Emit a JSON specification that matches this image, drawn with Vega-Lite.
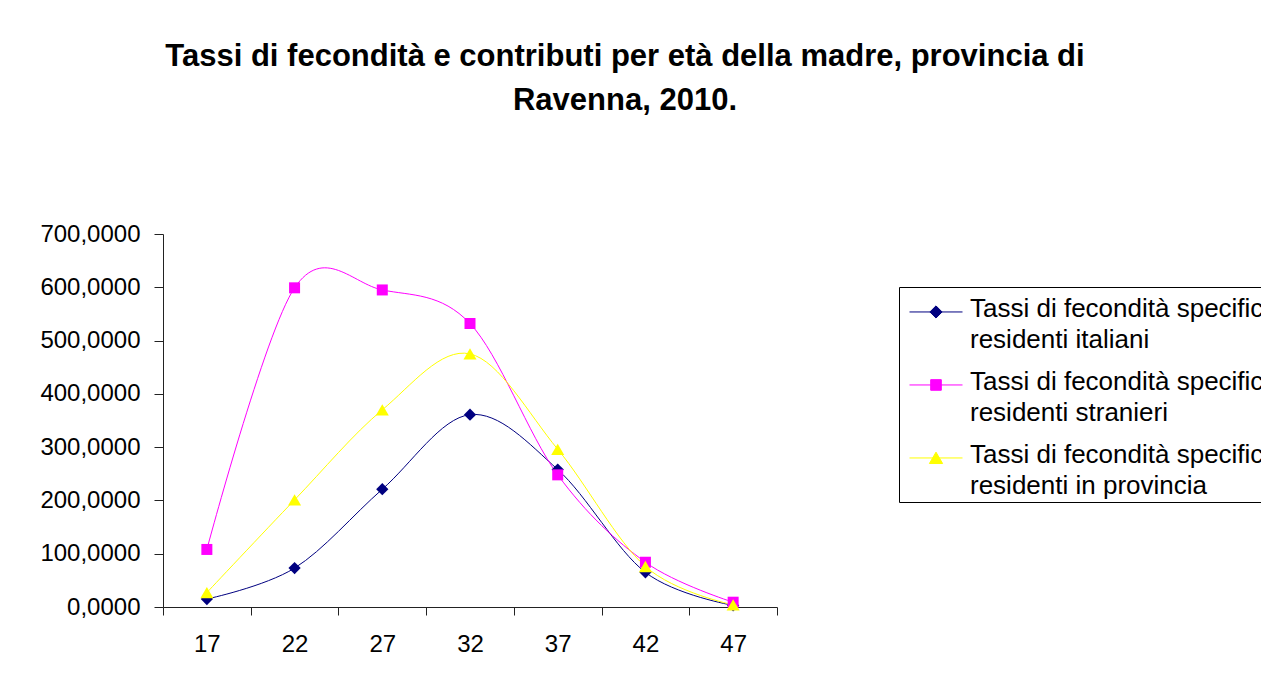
{
  "$schema": "https://vega.github.io/schema/vega-lite/v6.json",
  "autosize": "none",
  "width": 614,
  "height": 373,
  "padding": {"left": 163, "top": 234, "right": 484, "bottom": 77},
  "background": "white",
  "config": {
    "view": {"stroke": null},
    "font": "Liberation Sans",
    "legend": {"symbolFillColor": "#000000"},
    "style": {"guide-label": {"lineHeight": 31}}
  },
  "title": {
    "text": ["Tassi di fecondità e contributi per età della madre, provincia di", "Ravenna, 2010."],
    "font": "Liberation Sans",
    "fontSize": 31,
    "fontWeight": "bold",
    "color": "black",
    "anchor": "middle",
    "frame": "group",
    "dx": 155,
    "lineHeight": 44,
    "offset": 105
  },
  "data": {
    "values": [
      {"age": 17, "series": "Tassi di fecondità specifici dei residenti italiani", "value": 15},
      {"age": 22, "series": "Tassi di fecondità specifici dei residenti italiani", "value": 73},
      {"age": 27, "series": "Tassi di fecondità specifici dei residenti italiani", "value": 221},
      {"age": 32, "series": "Tassi di fecondità specifici dei residenti italiani", "value": 361},
      {"age": 37, "series": "Tassi di fecondità specifici dei residenti italiani", "value": 258},
      {"age": 42, "series": "Tassi di fecondità specifici dei residenti italiani", "value": 65},
      {"age": 47, "series": "Tassi di fecondità specifici dei residenti italiani", "value": 3},
      {"age": 17, "series": "Tassi di fecondità specifici dei residenti stranieri", "value": 108},
      {"age": 22, "series": "Tassi di fecondità specifici dei residenti stranieri", "value": 599},
      {"age": 27, "series": "Tassi di fecondità specifici dei residenti stranieri", "value": 595},
      {"age": 32, "series": "Tassi di fecondità specifici dei residenti stranieri", "value": 532},
      {"age": 37, "series": "Tassi di fecondità specifici dei residenti stranieri", "value": 248},
      {"age": 42, "series": "Tassi di fecondità specifici dei residenti stranieri", "value": 84},
      {"age": 47, "series": "Tassi di fecondità specifici dei residenti stranieri", "value": 9},
      {"age": 17, "series": "Tassi di fecondità specifici dei residenti in provincia", "value": 27},
      {"age": 22, "series": "Tassi di fecondità specifici dei residenti in provincia", "value": 201},
      {"age": 27, "series": "Tassi di fecondità specifici dei residenti in provincia", "value": 370},
      {"age": 32, "series": "Tassi di fecondità specifici dei residenti in provincia", "value": 475},
      {"age": 37, "series": "Tassi di fecondità specifici dei residenti in provincia", "value": 296},
      {"age": 42, "series": "Tassi di fecondità specifici dei residenti in provincia", "value": 76},
      {"age": 47, "series": "Tassi di fecondità specifici dei residenti in provincia", "value": 4}
    ]
  },
  "encoding": {
    "x": {
      "field": "age",
      "type": "quantitative",
      "scale": {"domain": [14.5, 49.5], "nice": false, "zero": false},
      "axis": {
        "title": null,
        "grid": false,
        "values": [14.5, 19.5, 24.5, 29.5, 34.5, 39.5, 44.5, 49.5],
        "labelExpr": "datum.value < 49 ? format(datum.value + 2.5, 'd') : ''",
        "labelOffset": 43.86,
        "labelFlush": false,
        "labelOverlap": false,
        "labelAngle": 0,
        "tickSize": 8,
        "labelPadding": 17,
        "labelFont": "Liberation Sans",
        "labelFontSize": 24,
        "labelColor": "black",
        "domainColor": "#222222",
        "tickColor": "#222222"
      }
    },
    "y": {
      "field": "value",
      "type": "quantitative",
      "scale": {"domain": [0, 700], "nice": false},
      "axis": {
        "title": null,
        "grid": false,
        "values": [0, 100, 200, 300, 400, 500, 600, 700],
        "labelExpr": "replace(format(datum.value, '.4f'), '.', ',')",
        "tickSize": 9,
        "labelPadding": 14,
        "labelFont": "Liberation Sans",
        "labelFontSize": 24,
        "labelColor": "black",
        "labelFlush": false,
        "labelOverlap": false,
        "domainColor": "#222222",
        "tickColor": "#222222"
      }
    }
  },
  "layer": [
    {
      "mark": {"type": "point", "filled": true, "opacity": 0, "size": 2809},
      "encoding": {
        "color": {
          "field": "series",
          "type": "nominal",
          "scale": {
            "domain": [
              "Tassi di fecondità specifici dei residenti italiani",
              "Tassi di fecondità specifici dei residenti stranieri",
              "Tassi di fecondità specifici dei residenti in provincia"
            ],
            "range": ["#000080", "#FF00FF", "#FFFF00"]
          },
          "legend": {
            "title": null,
            "orient": "none",
            "legendX": 736,
            "legendY": 53,
            "direction": "vertical",
            "strokeColor": "black",
            "fillColor": "white",
            "padding": 3,
            "symbolSize": 2809,
            "symbolOpacity": 1,
            "symbolStrokeWidth": 1,
            "symbolOffset": 7,
            "labelFont": "Liberation Sans",
            "labelFontSize": 26,
            "labelColor": "black",
            "labelLimit": 2000,
            "labelOffset": 7,
            "labelBaseline": "alphabetic",
            "rowPadding": 10,
            "labelExpr": "[slice(datum.label, 0, indexof(datum.label, ' residenti')), slice(datum.label, indexof(datum.label, ' residenti') + 1)]"
          }
        },
        "stroke": {
          "field": "series",
          "type": "nominal",
          "scale": {
            "domain": [
              "Tassi di fecondità specifici dei residenti italiani",
              "Tassi di fecondità specifici dei residenti stranieri",
              "Tassi di fecondità specifici dei residenti in provincia"
            ],
            "range": ["#000080", "#FF00FF", "#FFFF00"]
          }
        },
        "shape": {
          "field": "series",
          "type": "nominal",
          "scale": {
            "domain": [
              "Tassi di fecondità specifici dei residenti italiani",
              "Tassi di fecondità specifici dei residenti stranieri",
              "Tassi di fecondità specifici dei residenti in provincia"
            ],
            "range": [
              "M-1,-0.19H1M0,-0.42L0.23,-0.19L0,0.04L-0.23,-0.19Z",
              "M-1,-0.19H1M-0.2,-0.39H0.2V0.01H-0.2Z",
              "M-1,-0.19H1M0,-0.41L0.25,0.02H-0.25Z"
            ]
          }
        }
      }
    },
    {
      "mark": {"type": "line", "interpolate": "cardinal", "strokeWidth": 1},
      "encoding": {
        "color": {"field": "series", "type": "nominal"}
      }
    },
    {
      "transform": [{"filter": "indexof(datum.series, 'italiani') >= 0"}],
      "mark": {"type": "point", "filled": true, "opacity": 1, "shape": "diamond", "size": 150, "color": "#000080"}
    },
    {
      "transform": [{"filter": "indexof(datum.series, 'stranieri') >= 0"}],
      "mark": {"type": "point", "filled": true, "opacity": 1, "shape": "square", "size": 121, "color": "#FF00FF"}
    },
    {
      "transform": [{"filter": "indexof(datum.series, 'provincia') >= 0"}],
      "mark": {"type": "point", "filled": true, "opacity": 1, "shape": "triangle-up", "size": 170, "color": "#FFFF00"}
    }
  ]
}
